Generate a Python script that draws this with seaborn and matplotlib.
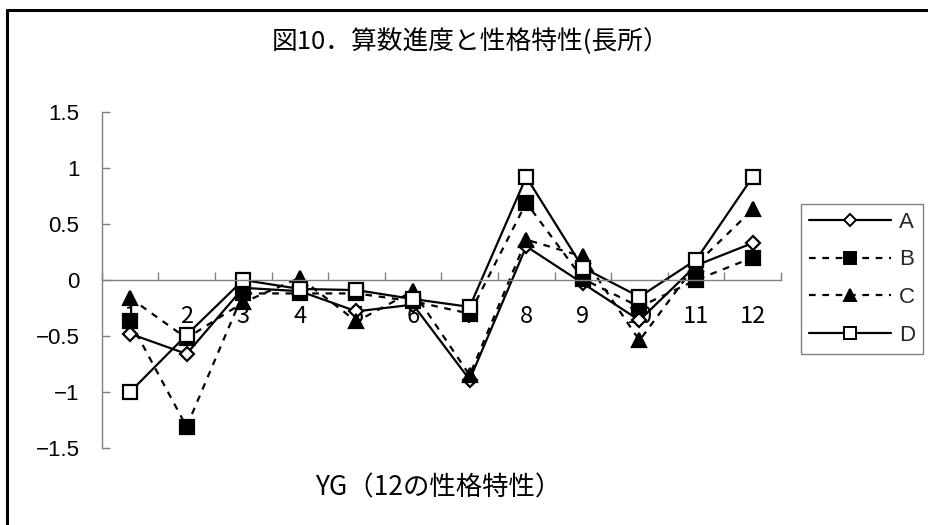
import matplotlib
matplotlib.use("Agg")
import matplotlib.pyplot as plt
from matplotlib.lines import Line2D
from matplotlib.ticker import FixedLocator
import seaborn as sns
import pandas as pd

# 12 personality traits (YG), mean score per group
traits = list(range(1, 13))
tick_labels = [str(t) for t in traits]
series_names = ["A", "B", "C", "D"]
vals_a = [-0.48, -0.66, -0.07, -0.10, -0.28, -0.22, -0.89, 0.30, -0.03, -0.36, 0.13, 0.33]
vals_b = [-0.37, -1.31, -0.12, -0.12, -0.12, -0.19, -0.30, 0.69, 0.01, -0.24, 0.00, 0.20]
vals_c = [-0.16, -0.52, -0.20, 0.02, -0.37, -0.10, -0.85, 0.36, 0.21, -0.54, 0.14, 0.63]
vals_d = [-1.00, -0.49, 0.00, -0.08, -0.09, -0.17, -0.24, 0.92, 0.11, -0.15, 0.18, 0.92]
y_ticks = [-1.5, -1.0, -0.5, 0.0, 0.5, 1.0, 1.5]
y_tick_labels = ["\u22121.5", "\u22121", "\u22120.5", "0", "0.5", "1", "1.5"]

title = "図10．算数進度と性格特性(長所）"
xlabel = "YG（12の性格特性）"

sns.set_theme(style="white")
plt.rcParams["font.family"] = ["Noto Sans CJK JP", "DejaVu Sans"]

df = pd.DataFrame({
    "trait": traits * 4,
    "value": vals_a + vals_b + vals_c + vals_d,
    "group": sum([[n] * len(traits) for n in series_names], []),
})

styles = {
    "A": dict(marker="D", markersize=7.5, markerfacecolor="white", linestyle="-"),
    "B": dict(marker="s", markersize=9.5, markerfacecolor="black", linestyle=(0, (3, 3))),
    "C": dict(marker="^", markersize=10.5, markerfacecolor="black", linestyle=(0, (3, 3))),
    "D": dict(marker="s", markersize=10, markerfacecolor="white", linestyle="-"),
}

W, H = 929, 525
fig = plt.figure(figsize=(W / 100, H / 100), dpi=100)
ax = fig.add_axes([101.7 / W, 1 - 448 / H, (781 - 101.7) / W, (448 - 112) / H])

for name in series_names:
    sub = df[df["group"] == name]
    st = styles[name]
    sns.lineplot(data=sub, x="trait", y="value", ax=ax, color="black",
                 linewidth=1.6, marker=st["marker"], markersize=st["markersize"],
                 markerfacecolor=st["markerfacecolor"], markeredgecolor="black",
                 markeredgewidth=1.6, linestyle=st["linestyle"], label=name,
                 legend=False, sort=False, errorbar=None)

ax.set_xlim(0.5, 12.5)
ax.set_ylim(-1.5, 1.5)
ax.set_xlabel("")
ax.set_ylabel("")

for s in ["top", "right"]:
    ax.spines[s].set_visible(False)
ax.spines["bottom"].set_position(("data", 0))
for s in ["left", "bottom"]:
    ax.spines[s].set_color("#808080")
    ax.spines[s].set_linewidth(1.0)

# category labels under the zero line, tick marks between categories
ax.xaxis.set_major_locator(FixedLocator(traits))
ax.set_xticklabels(tick_labels)
ax.xaxis.set_minor_locator(FixedLocator([t + 0.5 for t in [0] + traits]))
ax.tick_params(axis="x", which="major", length=0, pad=18, labelsize=17, labelcolor="black")
ax.tick_params(axis="x", which="minor", direction="in", length=6, width=1.0, color="#808080", bottom=True)

ax.set_yticks(y_ticks)
ax.set_yticklabels(y_tick_labels, family=["Liberation Sans", "DejaVu Sans"])
ax.tick_params(axis="y", direction="in", length=6, width=1.0, color="#808080",
               pad=16, labelsize=16, labelcolor="black", left=True)

handles = [Line2D([], [], color="black", linewidth=1.6, linestyle=styles[n]["linestyle"],
                  marker=styles[n]["marker"], markersize=styles[n]["markersize"] * 0.85,
                  markerfacecolor=styles[n]["markerfacecolor"], markeredgecolor="black",
                  markeredgewidth=1.4) for n in series_names]
leg = fig.legend(handles, series_names, loc="upper left",
                 bbox_to_anchor=(801 / W, 1 - 204 / H), frameon=True, fancybox=False,
                 edgecolor="#808080", framealpha=1, borderpad=0.35, labelspacing=0.75,
                 handlelength=3.7, handletextpad=0.35, borderaxespad=0,
                 prop={"family": ["Liberation Sans"], "size": 16})
leg.get_frame().set_linewidth(1.0)

fig.text(471 / W, 1 - 42 / H, title, ha="center", va="center", fontsize=18.5, color="black")
fig.text(438 / W, 1 - 488 / H, xlabel, ha="center", va="center", fontsize=19, color="black")

# outer chart frame
fig.add_artist(Line2D([7 / W, 1.01], [1 - 10 / H, 1 - 10 / H], transform=fig.transFigure,
                      color="black", linewidth=2.2))
fig.add_artist(Line2D([7 / W, 7 / W], [1 - 10 / H, -0.01], transform=fig.transFigure,
                      color="black", linewidth=2.2))

fig.savefig("out.png", dpi=100, facecolor="white")
